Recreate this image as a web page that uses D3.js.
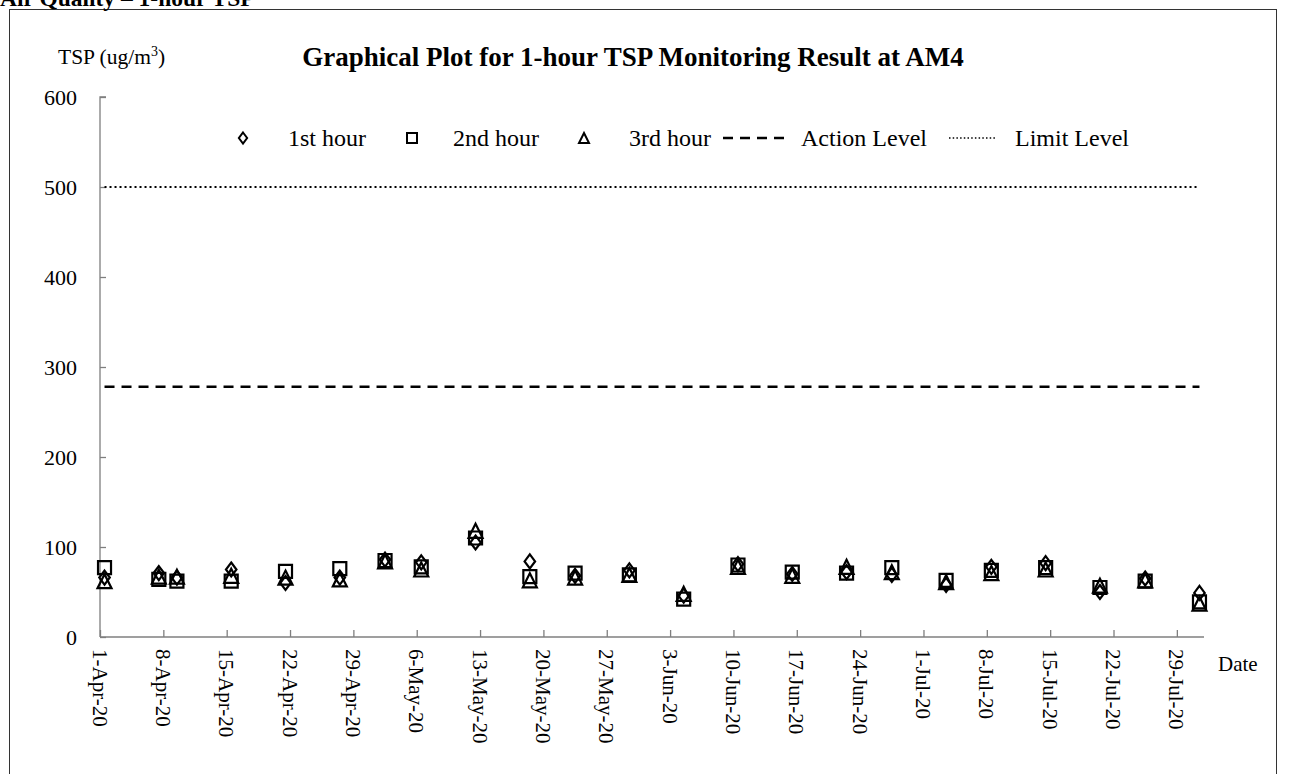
<!DOCTYPE html>
<html><head><meta charset="utf-8">
<script src="https://cdn.jsdelivr.net/npm/d3@7"></script>
<style>
html,body{margin:0;padding:0;background:#fff;}
svg{display:block;font-family:"Liberation Serif","Times New Roman",serif;}
</style></head>
<body>
<svg id="chart" width="1290" height="774"></svg>
<script>
// ---- data ----
const dates = ["2020-04-01","2020-04-07","2020-04-09","2020-04-15","2020-04-21","2020-04-27","2020-05-02","2020-05-06","2020-05-12","2020-05-18","2020-05-23","2020-05-29","2020-06-04","2020-06-10","2020-06-16","2020-06-22","2020-06-27","2020-07-03","2020-07-08","2020-07-14","2020-07-20","2020-07-25","2020-07-31"];
const hour1 = [66,71,66,75,60,66,86,83,105,84,68,74,46,81,70,72,69,58,78,82,50,65,49];
const hour2 = [77,64,62,62,73,76,85,78,110,67,71,69,42,80,72,71,77,63,74,77,55,62,39];
const hour3 = [62,67,67,68,66,64,84,75,118,63,66,69,48,78,68,78,72,61,71,75,57,63,37];
const actionLevel = 278;
const limitLevel = 500;
const xTickLabels = ["1-Apr-20","8-Apr-20","15-Apr-20","22-Apr-20","29-Apr-20","6-May-20","13-May-20","20-May-20","27-May-20","3-Jun-20","10-Jun-20","17-Jun-20","24-Jun-20","1-Jul-20","8-Jul-20","15-Jul-20","22-Jul-20","29-Jul-20"];
const yTicks = [0,100,200,300,400,500,600];
const xDomain = ["2020-04-01","2020-08-01"];
const legendLabels = ["1st hour","2nd hour","3rd hour","Action Level","Limit Level"];

// ---- chart ----
const svg = d3.select("#chart");
const parseISO = d3.utcParse("%Y-%m-%d");
const parseTick = d3.utcParse("%-d-%b-%y");
const axisColor = "#7f7f7f";

const x = d3.scaleUtc().domain(xDomain.map(parseISO)).range([100, 1204]);
const y = d3.scaleLinear().domain([0, 600]).range([637, 97]);
const xp = s => x(d3.utcHour.offset(parseISO(s), 12));

// outer frame and clipped heading
svg.append("rect").attr("x", 9.5).attr("y", 9.5).attr("width", 1267).attr("height", 800)
  .attr("fill", "none").attr("stroke", "#333").attr("stroke-width", 1);
svg.append("text").attr("x", 0).attr("y", 6).attr("font-size", 23.5).attr("font-weight", "bold")
  .text("Air Quality – 1-hour TSP");

// title
svg.append("text").attr("x", 633).attr("y", 66).attr("text-anchor", "middle")
  .attr("font-size", 27).attr("font-weight", "bold")
  .text("Graphical Plot for 1-hour TSP Monitoring Result at AM4");

// y axis label
const yl = svg.append("text").attr("x", 58).attr("y", 64).attr("font-size", 21.5);
yl.append("tspan").text("TSP (ug/m");
yl.append("tspan").attr("font-size", 14).attr("dy", -8).text("3");
yl.append("tspan").attr("dy", 8).text(")");

// y axis
const yAxis = d3.axisRight(y).tickValues(yTicks).tickSize(6).tickFormat("");
const gy = svg.append("g").attr("transform", "translate(100,0)").call(yAxis);
gy.select(".domain").attr("stroke", axisColor).attr("stroke-width", 1.3).attr("d", `M6,${y(600)}H0V${y(0)}`);
gy.selectAll(".tick line").attr("stroke", axisColor).attr("stroke-width", 1.3);
svg.append("g").selectAll("text").data(yTicks).join("text")
  .attr("x", 77).attr("y", d => y(d)).attr("dy", "0.35em").attr("text-anchor", "end")
  .attr("font-size", 22).text(d => d);

// x axis
const tickDates = xTickLabels.map(parseTick);
const xAxis = d3.axisTop(x).tickValues(tickDates).tickSize(7).tickFormat("");
const gx = svg.append("g").attr("transform", `translate(0,${y(0)})`).call(xAxis);
gx.select(".domain").attr("stroke", axisColor).attr("stroke-width", 1.3).attr("d", `M${x.range()[0]},0H${x.range()[1]}`);
gx.selectAll(".tick line").attr("stroke", axisColor).attr("stroke-width", 1.3);
svg.append("g").selectAll("text").data(tickDates).join("text")
  .attr("transform", (d) => `translate(${x(d)},${y(0) + 12}) rotate(90)`)
  .attr("dy", "0.35em").attr("font-size", 21).attr("text-anchor", "start")
  .text((d, i) => xTickLabels[i]);
svg.append("text").attr("x", 1218).attr("y", 671).attr("font-size", 21).text("Date");

// reference lines
const x0 = xp(dates[0]), x1 = xp(dates[dates.length - 1]);
svg.append("line").attr("x1", x0).attr("x2", x1).attr("y1", y(limitLevel)).attr("y2", y(limitLevel))
  .attr("stroke", "#000").attr("stroke-width", 2).attr("stroke-dasharray", "2,3");
svg.append("line").attr("x1", x0).attr("x2", x1).attr("y1", y(actionLevel)).attr("y2", y(actionLevel))
  .attr("stroke", "#000").attr("stroke-width", 2.5).attr("stroke-dasharray", "10,7");

// markers
const diamond = s => `M0,${-s}L${s*0.75},0L0,${s}L${-s*0.75},0Z`;
const square = s => `M${-s},${-s}H${s}V${s}H${-s}Z`;
const triangle = s => `M0,${-s}L${s},${s}H${-s}Z`;
const series = [
  {vals: hour1, path: diamond(7)},
  {vals: hour2, path: square(6.5)},
  {vals: hour3, path: triangle(7)}
];
series.forEach(s => {
  svg.append("g").selectAll("path").data(s.vals).join("path")
    .attr("transform", (v, i) => `translate(${xp(dates[i])},${y(v)})`)
    .attr("d", s.path).attr("fill", "none").attr("stroke", "#000").attr("stroke-width", 2.2);
});

// legend
const ly = 138;
const lg = svg.append("g");
const legendText = (xx, t) => lg.append("text").attr("x", xx).attr("y", ly).attr("dy", "0.35em").attr("font-size", 24).text(t);
lg.append("path").attr("transform", `translate(243,${ly})`).attr("d", diamond(5.5)).attr("fill", "none").attr("stroke", "#000").attr("stroke-width", 2);
legendText(288, legendLabels[0]);
lg.append("path").attr("transform", `translate(412,${ly})`).attr("d", square(5)).attr("fill", "none").attr("stroke", "#000").attr("stroke-width", 2);
legendText(453, legendLabels[1]);
lg.append("path").attr("transform", `translate(584,${ly})`).attr("d", triangle(5)).attr("fill", "none").attr("stroke", "#000").attr("stroke-width", 2);
legendText(629, legendLabels[2]);
lg.append("line").attr("x1", 723).attr("x2", 790).attr("y1", ly).attr("y2", ly).attr("stroke", "#000").attr("stroke-width", 2.5).attr("stroke-dasharray", "10,7");
legendText(801, legendLabels[3]);
lg.append("line").attr("x1", 949).attr("x2", 997).attr("y1", ly).attr("y2", ly).attr("stroke", "#000").attr("stroke-width", 1.5).attr("stroke-dasharray", "1.5,2.2");
legendText(1015, legendLabels[4]);
</script>
</body></html>
